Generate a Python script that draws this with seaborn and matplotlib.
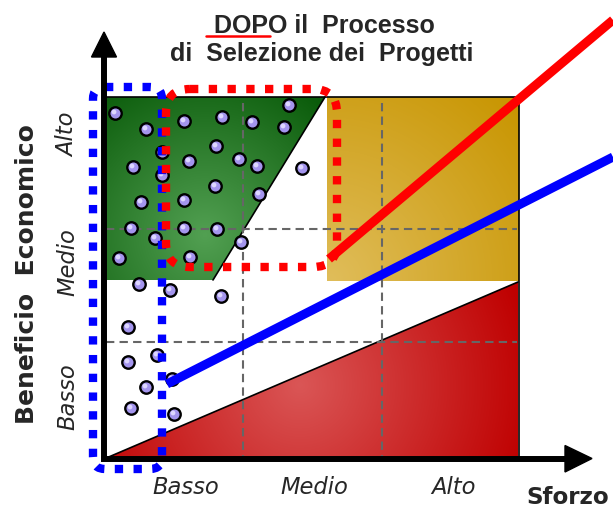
import numpy as np
import matplotlib
matplotlib.use("Agg")
import matplotlib.pyplot as plt
from matplotlib.patches import Polygon, FancyBboxPatch
from matplotlib.colors import to_rgb
import seaborn as sns

# ---- data -------------------------------------------------------------
# Selected projects (canvas coordinates, y grows downward)
point_x = [115, 146, 184, 222, 252, 284, 289,
           162, 133, 189, 216, 239, 257, 302,
           162, 141, 184, 215, 259,
           131, 184, 217, 155, 241,
           119, 190, 139, 170, 221,
           128, 157, 128, 172, 146, 131, 174]
point_y = [113, 129, 121, 117, 122, 127, 105,
           152, 167, 161, 146, 159, 166, 168,
           175, 202, 200, 186, 194,
           228, 228, 229, 238, 242,
           258, 257, 284, 290, 296,
           327, 355, 362, 379, 387, 408, 414]

# Trend lines
red_line_x = [329, 613]
red_line_y = [259, 20]
blue_line_x = [167, 613]
blue_line_y = [384, 157]

effort_labels = ["Basso", "Medio", "Alto"]
benefit_labels = ["Basso", "Medio", "Alto"]

title_lines = ["DOPO il  Processo", "di  Selezione dei  Progetti"]
y_title = "Beneficio  Economico"
x_title = "Sforzo"

# ---- figure -----------------------------------------------------------
sns.set_theme(style="white")
plt.rcParams["font.family"] = ["DejaVu Sans"]

fig = plt.figure(figsize=(6.13, 5.07), dpi=100)
ax = fig.add_axes([0, 0, 1, 1])
ax.axis("off")


def radial_fill(verts, center, radius, c_in, c_out, z):
    xs = [v[0] for v in verts]
    ys = [v[1] for v in verts]
    x0, x1, y0, y1 = min(xs), max(xs), min(ys), max(ys)
    nx = int((x1 - x0) * 2) + 2
    ny = int((y1 - y0) * 2) + 2
    X, Y = np.meshgrid(np.linspace(x0, x1, nx), np.linspace(y0, y1, ny))
    t = np.clip(np.hypot(X - center[0], Y - center[1]) / radius, 0, 1)[..., None]
    img = np.array(to_rgb(c_in)) * (1 - t) + np.array(to_rgb(c_out)) * t
    poly = Polygon(verts, closed=True, facecolor="none", edgecolor="none")
    ax.add_patch(poly)
    im = ax.imshow(img, extent=(x0, x1, y1, y0), origin="upper",
                   interpolation="bilinear", zorder=z)
    im.set_clip_path(poly)


# coloured zones
radial_fill([(104, 97), (325, 97), (213, 280), (104, 280)],
            (205, 235), 175, "#52a052", "#0b5c0b", 1)
radial_fill([(327, 97), (519, 97), (519, 281), (327, 281)],
            (330, 280), 260, "#e0bd5a", "#c89500", 1)
radial_fill([(104, 459), (518, 282), (518, 459)],
            (300, 385), 235, "#da5656", "#bf0000", 1)

# thin black outlines
ax.plot([104, 519], [97, 97], color="black", lw=1.2, zorder=2)
ax.plot([518.5, 518.5], [97, 459], color="black", lw=1.2, zorder=2)
ax.plot([325, 213], [97, 280], color="black", lw=1.2, zorder=2)
ax.plot([104, 518], [459, 282], color="black", lw=1.2, zorder=2)

# dashed grid
grid_kw = dict(color="#666666", lw=1.5, linestyle=(0, (4, 2.5)), zorder=3)
for gx in (243, 382):
    ax.plot([gx, gx], [103, 459], **grid_kw)
for gy in (229, 342):
    ax.plot([106, 517], [gy, gy], **grid_kw)

# projects
sns.scatterplot(x=point_x, y=point_y, ax=ax, s=80, color="#a495ee",
                edgecolor="black", linewidth=1.7, zorder=4, legend=False)
sns.scatterplot(x=np.array(point_x) - 1, y=np.array(point_y) - 1, ax=ax,
                s=12, color="#ddd6ff", edgecolor="none", linewidth=0,
                zorder=4.5, legend=False)

# trend lines
sns.lineplot(x=blue_line_x, y=blue_line_y, ax=ax, color="#0000ff", lw=6.5,
             sort=False, estimator=None, solid_capstyle="butt", zorder=5)
sns.lineplot(x=red_line_x, y=red_line_y, ax=ax, color="#ff0000", lw=6.5,
             sort=False, estimator=None, solid_capstyle="butt", zorder=5)

# dotted selection outlines
blue_box = FancyBboxPatch((93, 87), 162 - 93, 469 - 87,
                          boxstyle="round,pad=0,rounding_size=12",
                          fill=False, edgecolor="#0000ff", lw=6.0,
                          linestyle=(0, (1.0, 1.25)), zorder=6)
ax.add_patch(blue_box)
red_box = FancyBboxPatch((166, 89), 337 - 166, 267 - 89,
                         boxstyle="round,pad=0,rounding_size=24",
                         fill=False, edgecolor="#ff0000", lw=6.0,
                         linestyle=(0, (1.0, 1.25)), zorder=7)
ax.add_patch(red_box)

# axes with arrow heads
ax.plot([104, 104], [461, 55], color="black", lw=4.3,
        solid_capstyle="butt", zorder=8)
ax.add_patch(Polygon([(91.5, 57), (116.5, 57), (104, 32)], closed=True,
                     color="black", zorder=8))
ax.plot([101, 566], [458.5, 458.5], color="black", lw=4.3,
        solid_capstyle="butt", zorder=8)
ax.add_patch(Polygon([(565, 445.5), (565, 472), (592, 458.5)], closed=True,
                     color="black", zorder=8))

# title
ax.plot([206, 270], [36, 36], color="#ff0000", lw=1.8, zorder=8)
for text, cx, by in zip(title_lines, (324, 322), (33, 61)):
    ax.text(cx, by, text, ha="center", va="baseline", fontsize=18,
            fontweight="bold", family=["Liberation Sans", "DejaVu Sans"],
            zorder=9)

# category labels
for lab, cx in zip(effort_labels, (186, 314, 453)):
    ax.text(cx, 487, lab, ha="center", va="center", fontsize=16.3,
            style="italic", zorder=9)
for lab, cy in zip(benefit_labels, (397, 262, 135)):
    ax.text(68, cy, lab, ha="center", va="center", fontsize=16.3,
            style="italic", rotation=90, zorder=9)

ax.text(27, 274, y_title, ha="center", va="center", fontsize=18.0,
        fontweight="bold", rotation=90, zorder=9)
ax.text(568, 497, x_title, ha="center", va="center", fontsize=16.6,
        fontweight="bold", zorder=9)

ax.set_aspect("auto")
ax.set_xlim(0, 613)
ax.set_ylim(507, 0)

fig.savefig("out.png", dpi=100)
